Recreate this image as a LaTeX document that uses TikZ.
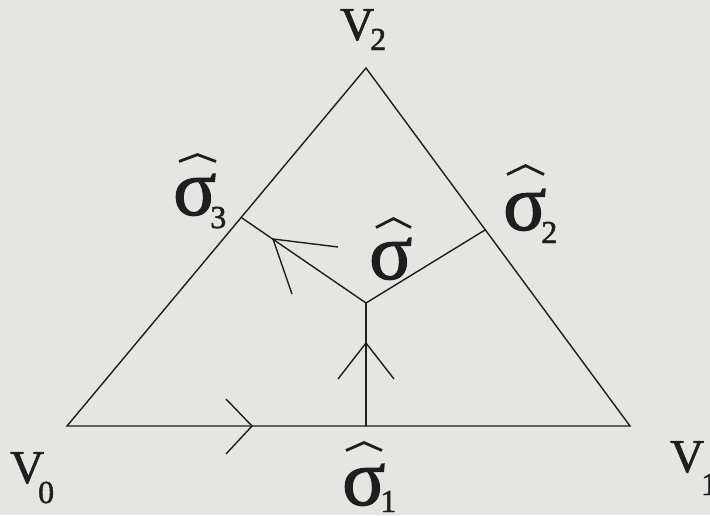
\documentclass[tikz,border=0pt]{standalone}
\usepackage{fontspec}
\setmainfont{Liberation Serif}
\newfontfamily\labfont[FakeBold=1.5]{Liberation Serif}
\definecolor{bg}{RGB}{229,229,226}
\definecolor{ink}{RGB}{30,30,30}
\tikzset{
 edge/.style={draw=ink, line width=1.4pt, line cap=round},
 chev/.style={draw=ink, line width=1.4pt, line join=miter},
 hatmark/.style={draw=ink, line width=2.8pt, line join=miter},
 vlab/.style={inner sep=0pt, anchor=base west, text=ink, font=\labfont\fontsize{47}{47}\selectfont},
 slab/.style={inner sep=0pt, anchor=base west, text=ink, font=\labfont\fontsize{80}{80}\selectfont},
}
\newcommand{\subdig}[2]{\raisebox{-#1pt}{\fontsize{32}{32}\selectfont #2}}
\begin{document}
\begin{tikzpicture}[x=1pt,y=-1pt]
\fill[bg] (0,0) rectangle (710,515);
\useasboundingbox (0,0) rectangle (710,515);
% vertices and points
\coordinate (v0) at (67,426);
\coordinate (v1) at (630,426);
\coordinate (v2) at (366,68);
\coordinate (c) at (366,303);
\coordinate (m1) at (366,426);
\coordinate (m2) at (485,230);
\coordinate (m3) at (242,218);
% triangle and branches
\draw[edge] (v0) -- (v1) -- (v2) -- cycle;
\draw[edge] (c) -- (m1);
\draw[edge] (c) -- (m2);
\draw[edge] (c) -- (m3);
% arrowheads
\coordinate (t0) at (252,426);
\draw[chev] (226,399) -- (t0) -- (226,454);
\coordinate (t1) at (366,343);
\draw[chev] (338,379) -- (t1) -- (394,379);
\coordinate (t3) at (273,239);
\draw[chev] (338,247) -- (t3) -- (292,294);
% vertex labels
\node[vlab] (lv0) at (10,483) {V\hspace{-6pt}\subdig{20}{0}};
\node[vlab] (lv1) at (670,472) {V\hspace{-3pt}\subdig{23}{1}};
\node[vlab] (lv2) at (340,40) {V\hspace{-4pt}\subdig{10}{2}};
% sigma labels
\node[slab] (s0) at (369,279) {σ};
\node[slab] (s1) at (342,505) {σ\hspace{-5pt}\subdig{7}{1}};
\node[slab] (s2) at (503,230) {σ\hspace{-5pt}\subdig{13}{2}};
\node[slab] (s3) at (173,215) {σ\hspace{-6pt}\subdig{13}{3}};
% hats
\draw[hatmark] (376,227.5) -- (393.5,218.6) -- (411,227.5);
\draw[hatmark] (507,174.5) -- (525.5,165.6) -- (544,174.5);
\draw[hatmark] (179,161.5) -- (197.5,154.6) -- (216,161.5);
\draw[hatmark] (346,450.5) -- (364,442.6) -- (382,450.5);
\end{tikzpicture}
\end{document}
